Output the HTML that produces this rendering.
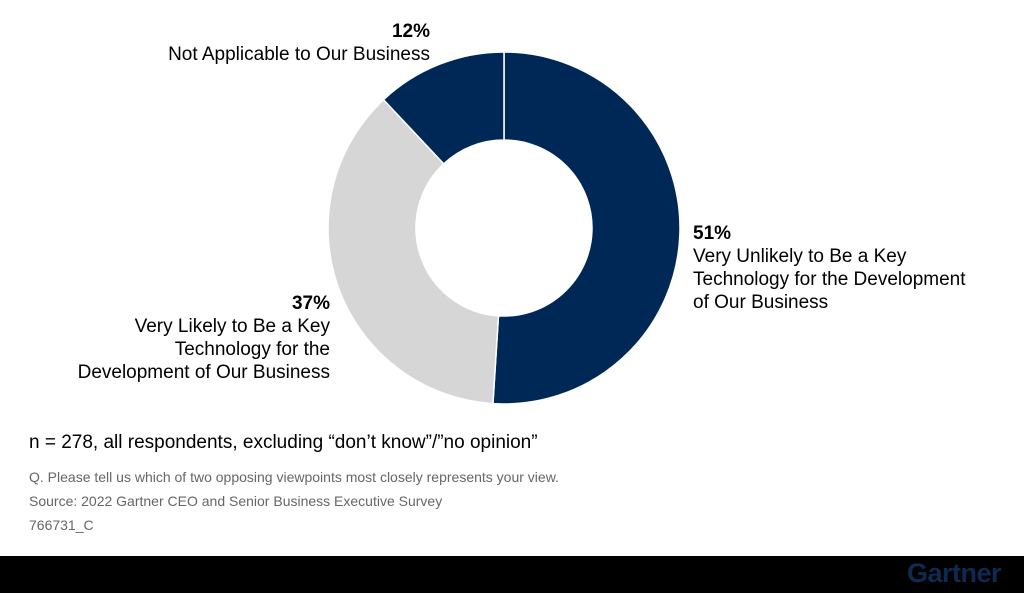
<!DOCTYPE html>
<html><head><meta charset="utf-8"><style>
body{margin:0;width:1024px;height:593px;background:#fff;position:relative;overflow:hidden;font-family:"Liberation Sans",sans-serif;color:#000}
.t{position:absolute;white-space:nowrap}
.lab{font-size:19px;line-height:23px}
.small{font-size:14px;color:#666}
</style></head><body>
<svg width="1024" height="556" style="position:absolute;left:0;top:0">
<g id="slices"></g>
</svg>
<div class="t lab" style="right:594px;top:20px;text-align:right"><b>12%</b><br>Not Applicable to Our Business</div>
<div class="t lab" style="left:693px;top:222px"><b>51%</b><br>Very Unlikely to Be a Key<br>Technology for the Development<br>of Our Business</div>
<div class="t lab" style="right:694px;top:292px;text-align:right"><b>37%</b><br>Very Likely to Be a Key<br>Technology for the<br>Development of Our Business</div>
<div class="t" style="left:29px;top:432px;font-size:19px">n = 278, all respondents, excluding “don’t know”/”no opinion”</div>
<div class="t small" style="left:29px;top:469px">Q. Please tell us which of two opposing viewpoints most closely represents your view.</div>
<div class="t small" style="left:29px;top:493px">Source: 2022 Gartner CEO and Senior Business Executive Survey</div>
<div class="t small" style="left:29px;top:517px">766731_C</div>
<div style="position:absolute;left:0;top:556px;width:1024px;height:37px;background:#000"></div>
<div class="t" style="left:907px;top:558px;font-size:27px;font-weight:bold;color:#0f2a52;letter-spacing:-0.5px">Gartner</div>
<script>
const categories=["Very Unlikely","Very Likely","Not Applicable"];
const values=[51,37,12];
const colors=["#002856","#d6d6d6","#002856"];
const cx=504,cy=228,R=176,r=88;
const g=document.getElementById('slices');
const total=values.reduce((a,b)=>a+b,0);
let a0=0;
function pt(rad,a){return [cx+rad*Math.sin(a),cy-rad*Math.cos(a)];}
values.forEach((v,i)=>{
 const a1=a0+v/total*2*Math.PI;
 const big=(a1-a0)>Math.PI?1:0;
 const [x1,y1]=pt(R,a0),[x2,y2]=pt(R,a1),[x3,y3]=pt(r,a1),[x4,y4]=pt(r,a0);
 const p=document.createElementNS('http://www.w3.org/2000/svg','path');
 p.setAttribute('d',`M${x1},${y1}A${R},${R} 0 ${big} 1 ${x2},${y2}L${x3},${y3}A${r},${r} 0 ${big} 0 ${x4},${y4}Z`);
 p.setAttribute('fill',colors[i]);
 p.setAttribute('stroke','#fff');
 p.setAttribute('stroke-width','1.5');
 
 
 g.appendChild(p);
 a0=a1;
});
</script>
</body></html>
